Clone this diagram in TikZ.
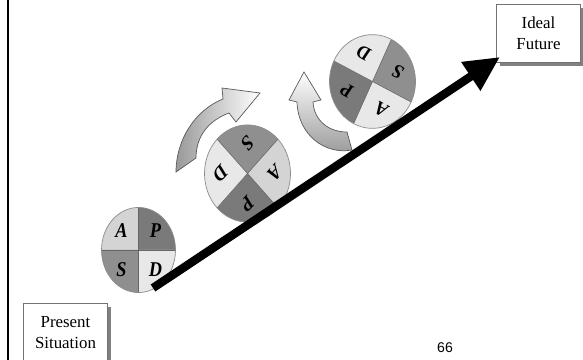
\documentclass[tikz,border=0pt]{standalone}
\usepackage{fontspec}
\setmainfont{Liberation Serif}
\newfontfamily\pagefont{Liberation Sans}
\usepackage{tikz}
\usetikzlibrary{arrows.meta, shadows}

\colorlet{qdark}{black!52}
\colorlet{qmid}{black!44}
\colorlet{qlight}{black!17}
\colorlet{qpale}{black!9}

\tikzset{
  goalbox/.style={draw=black!55, fill=white, line width=0.6pt,
    minimum width=2.1cm, minimum height=1.47cm, align=center,
    font=\fontsize{12}{15}\selectfont,
    drop shadow={shadow xshift=2.5pt, shadow yshift=-2.5pt, fill=black!70, opacity=0.7}},
  pdsaletter/.style={font=\fontsize{13}{15}\selectfont\bfseries\itshape, transform shape},
  wheeledge/.style={draw=black!45, line width=0.5pt},
  turnarrow/.style={draw=black!65, line width=0.5pt},
}

\begin{document}
\begin{tikzpicture}[x=0.025cm, y=0.025cm]
  \useasboundingbox (0,0) rectangle (583,360);
  % slide frame
  \draw[line width=1.4pt] (8,0) -- (8,360);

  % boxes
  \node[goalbox] (present) at (65.5,27.5) {Present\\Situation};
  \node[goalbox] (ideal) at (538.5,326.5) {Ideal\\Future};

  % wheel 1
  \begin{scope}[shift={(138.5,110)}, yscale=1.15]
    \foreach \ang/\lab/\col in {135/A/qlight, 45/P/qdark, -45/D/qpale, -135/S/qmid}
      \fill[\col] (0,0) -- (\ang-45:37) arc[start angle=\ang-45, end angle=\ang+45, radius=37] -- cycle;
    \foreach \a in {0,90,180,270}
      \draw[black!60, line width=0.4pt] (0,0) -- (\a:37);
    \draw[wheeledge] (0,0) circle[radius=37];
    \foreach \ang/\lab in {135/A, 45/P, -45/D, -135/S}
      \node[pdsaletter] (w1\lab) at (\ang:24) {\lab};
  \end{scope}

  % wheel 2
  \begin{scope}[shift={(247.5,186.5)}, yscale=1.13, rotate=-135]
    \foreach \ang/\lab/\col in {135/A/qlight, 45/P/qdark, -45/D/qpale, -135/S/qmid}
      \fill[\col] (0,0) -- (\ang-45:43) arc[start angle=\ang-45, end angle=\ang+45, radius=43] -- cycle;
    \foreach \a in {0,90,180,270}
      \draw[black!60, line width=0.4pt] (0,0) -- (\a:43);
    \draw[wheeledge] (0,0) circle[radius=43];
    \foreach \ang/\lab in {135/A, 45/P, -45/D, -135/S}
      \node[pdsaletter] (w2\lab) at (\ang:27) {\lab};
  \end{scope}

  % wheel 3
  \begin{scope}[shift={(372.5,278.5)}, yscale=1.09, rotate=-206]
    \foreach \ang/\lab/\col in {135/A/qpale, 45/P/qdark, -45/D/qpale, -135/S/qmid}
      \fill[\col] (0,0) -- (\ang-45:43) arc[start angle=\ang-45, end angle=\ang+45, radius=43] -- cycle;
    \foreach \a in {0,90,180,270}
      \draw[black!60, line width=0.4pt] (0,0) -- (\a:43);
    \draw[wheeledge] (0,0) circle[radius=43];
    \foreach \ang/\lab in {135/A, 45/P, -45/D, -135/S}
      \node[pdsaletter] (w3\lab) at (\ang:27) {\lab};
  \end{scope}

  % turning arrows
  \shade[turnarrow, left color=black!40, right color=white]
    (176,188) .. controls (176,220) and (195,250) .. (223,261) -- (222,272)
    -- (260,267) -- (236,238) -- (229,247)
    .. controls (210,240) and (196,225) .. (196,202) -- cycle;
  \shade[turnarrow, bottom color=black!40, top color=white]
    (352,210) .. controls (325,205) and (298,225) .. (297,258) -- (289,260)
    -- (304,288) -- (321,260) -- (313,258)
    .. controls (314,240) and (328,228) .. (347,228) -- cycle;

  % improvement path
  \coordinate (pathstart) at (153,72);
  \coordinate (goal) at (500,303);
  \draw[line width=6pt, -{Triangle[length=25pt, width=23pt]}] (pathstart) -- (goal);

  \node[font=\pagefont\fontsize{10}{12}\selectfont] (pagenum) at (445,12) {66};
\end{tikzpicture}
\end{document}
